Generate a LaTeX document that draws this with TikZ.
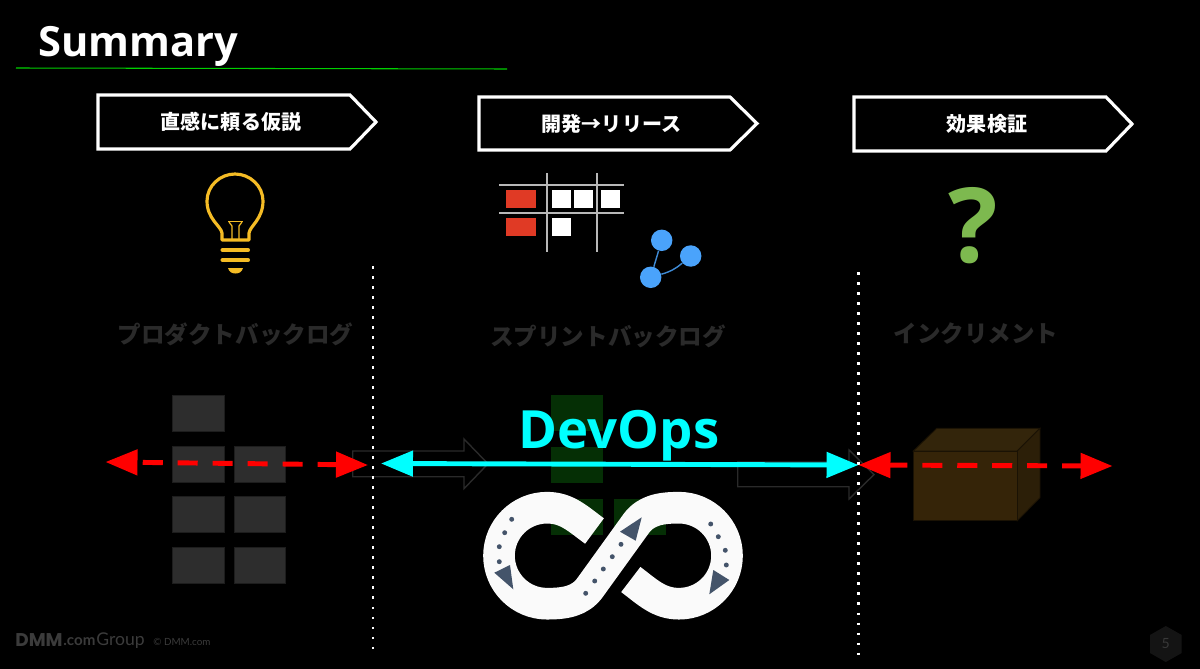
\documentclass[tikz,border=0pt]{standalone}
\usepackage{fontspec}
\usepackage{tikz}
\usetikzlibrary{arrows.meta}
\newfontfamily\jpfont{Noto Sans CJK JP}
\newfontfamily\latinfont{Open Sans}
\newfontfamily\footfont{Lato}
\newfontfamily\logofont{Poppins}
\definecolor{ghosttext}{HTML}{2A2A2A}
\definecolor{ghostgray}{HTML}{2D2D2D}
\definecolor{ghostgreen}{HTML}{052F05}
\definecolor{bulbyellow}{HTML}{F5BC25}
\definecolor{quizgreen}{HTML}{7DB94F}
\definecolor{cardred}{HTML}{E03A25}
\definecolor{gitblue}{HTML}{4AA3FB}
\definecolor{slate}{HTML}{44546A}
\definecolor{aqua}{HTML}{00FFFF}
\definecolor{pure}{HTML}{FF0000}
\definecolor{rulegreen}{HTML}{00D000}
\definecolor{ringwhite}{HTML}{FAFAFA}
\tikzset{
  banner/.style={draw=white,fill=black,line width=1.8pt,line join=miter},
  bannertext/.style={text=white,inner sep=0,font=\jpfont\bfseries\fontsize{11.4}{12}\selectfont},
  ghosttitle/.style={text=ghosttext,inner sep=0,font=\jpfont\bfseries\fontsize{13.4}{14}\selectfont},
  graysq/.style={draw=ghosttext!70!black,fill=ghostgray,line width=.5pt,inner sep=0,minimum width=29.3pt,minimum height=20.5pt},
  greensq/.style={fill=ghostgreen,inner sep=0,minimum width=29.6pt,minimum height=20.5pt},
  ghostarrow/.style={draw=ghosttext,line width=.8pt},
  dots/.style={draw=white,line width=1.5pt,dash pattern=on 1.5pt off 4.2pt},
  redline/.style={draw=pure,line width=2.8pt,
    >={Triangle[length=18.2pt,width=14.2pt,fill=pure]}},
  cyanline/.style={draw=aqua,line width=2.8pt,
    >={Triangle[length=18.2pt,width=14.2pt,fill=aqua]}},
  boardline/.style={draw=black!28,line width=1pt},
  cardsq/.style={fill=white,inner sep=0,minimum width=10.5pt,minimum height=10.2pt},
  cardred/.style={fill=cardred,inner sep=0,minimum width=17pt,minimum height=10.2pt},
  gitnode/.style={circle,fill=gitblue,inner sep=0,minimum size=12.2pt},
  gitline/.style={draw=gitblue!85!black,line width=.8pt},
  slatedot/.style={circle,fill=slate,inner sep=0,minimum size=2.8pt},
  foot/.style={text=black!77,inner sep=0,anchor=west},
}
\begin{document}
\begin{tikzpicture}[x=0.02cm,y=-0.02cm]
  \fill[black] (0,0) rectangle (1200,669);
  \useasboundingbox (0,0) rectangle (1200,669);
  % title
  \node[anchor=west,inner sep=0,text=white,font=\latinfont\bfseries\fontsize{23.7}{25}\selectfont] (title) at (38,46.5) {Summary};
  \coordinate (ruleA) at (16,68);
  \coordinate (ruleB) at (507,69);
  \draw[draw=rulegreen,line width=.6pt] (ruleA) to (ruleB);
  % banners
  \draw[banner] (98,95) -- (350,95) -- (376,122) -- (350,149) -- (98,149) -- cycle;
  \draw[banner] (479,97) -- (730,97) -- (757,123.5) -- (730,150) -- (479,150) -- cycle;
  \draw[banner] (854,97) -- (1106,97) -- (1132,124) -- (1106,151) -- (854,151) -- cycle;
  \node[bannertext] (hypo) at (231,122) {直感に頼る仮説};
  \node[bannertext] (dev) at (611.5,123.5) {開発→リリース};
  \node[bannertext] (verify) at (987,124) {効果検証};
  % bulb
  \draw[bulbyellow,line width=1.8pt,line join=round]
    (222,240) -- (222,233) .. controls (221,226) and (207,219) .. (207,201)
    .. controls (207,186) and (220,174) .. (235,174)
    .. controls (250,174) and (263,186) .. (263,201)
    .. controls (263,219) and (250,226) .. (249,233) -- (249,240) -- cycle;
  \draw[bulbyellow,line width=.7pt] (228,221.5) -- (243,221.5);
  \draw[bulbyellow,line width=.7pt] (229,222) -- (232,226) -- (232,240);
  \draw[bulbyellow,line width=.7pt] (242,222) -- (239,226) -- (239,240);
  \draw[bulbyellow,line width=2.3pt,line cap=round] (222.5,250) -- (248,250);
  \draw[bulbyellow,line width=2.3pt,line cap=round] (222.5,260) -- (248,260);
  \fill[bulbyellow] (228,268) -- (243,268) .. controls (242,272) and (239,273.5) .. (235.5,273.5)
    .. controls (232,273.5) and (229,272) .. (228,268) -- cycle;
  % board
  \coordinate (hA) at (499,185); \coordinate (hB) at (624,185);
  \coordinate (hC) at (499,213); \coordinate (hD) at (624,213);
  \coordinate (vA) at (546.7,173); \coordinate (vB) at (546.7,252);
  \coordinate (vC) at (597.3,173); \coordinate (vD) at (597.3,252);
  \draw[boardline] (hA) to (hB);
  \draw[boardline] (hC) to (hD);
  \draw[boardline] (vA) to (vB);
  \draw[boardline] (vC) to (vD);
  \node[cardred] (redA) at (521,199) {};
  \node[cardred] (redB) at (521,226.7) {};
  \node[cardsq] (cardA) at (561.3,199) {};
  \node[cardsq] (cardB) at (583.5,199) {};
  \node[cardsq] (cardC) at (610.7,199) {};
  \node[cardsq] (cardD) at (561.3,226.7) {};
  % branch
  \node[gitnode] (gitA) at (661.7,240.3) {};
  \node[gitnode] (gitB) at (690.7,256) {};
  \node[gitnode] (gitC) at (650.7,277.3) {};
  \draw[gitline] (gitA) to (gitC);
  \draw[gitline] (gitB) to[bend left=12] (gitC);
  % question mark
  \node[inner sep=0,text=quizgreen,font=\latinfont\bfseries\fontsize{59}{62}\selectfont] (quiz) at (973,226) {?};
  % faded titles
  \node[ghosttitle] (pbl) at (235.5,334) {プロダクトバックログ};
  \node[ghosttitle] (sbl) at (608,336) {スプリントバックログ};
  \node[ghosttitle] (inc) at (976,334) {インクリメント};
  % product backlog
  \node[graysq] (itemA) at (198.5,413) {};
  \foreach \name/\posx/\posy in {itemB/198.5/464,itemC/260/464,itemD/198.5/514.5,itemE/260/514.5,itemF/198.5/565,itemG/260/565}
    \node[graysq] (\name) at (\posx,\posy) {};
  % sprint backlog
  \foreach \name/\posx/\posy in {taskA/577/413,taskB/577/465,taskC/577/517,taskD/640/517}
    \node[greensq] (\name) at (\posx,\posy) {};
  % flow arrows
  \draw[ghostarrow] (352.7,451) -- (464,451) -- (464,439) -- (488,463.8) -- (464,488.7) -- (464,476.7) -- (352.7,476.7) -- cycle;
  \draw[ghostarrow] (737.7,462) -- (849,462) -- (849,450) -- (874,474.6) -- (849,499) -- (849,486.7) -- (737.7,486.7) -- cycle;
  % increment
  \fill[fill={rgb,255:red,51;green,37;blue,11},draw={rgb,255:red,26;green,18;blue,4},line width=.5pt] (913.3,451) -- (936.7,428.3) -- (1040,428.3) -- (1017.3,451) -- cycle;
  \fill[fill={rgb,255:red,44;green,31;blue,8},draw={rgb,255:red,26;green,18;blue,4},line width=.5pt] (1017.3,451) -- (1040,428.3) -- (1040,497.7) -- (1017.3,520.7) -- cycle;
  \fill[fill={rgb,255:red,53;green,36;blue,8},draw={rgb,255:red,26;green,18;blue,4},line width=.5pt] (913.3,451) rectangle (1017.3,520.7);
  % dotted separators
  \coordinate (sepA) at (373,266);
  \coordinate (sepB) at (373,651);
  \coordinate (sepC) at (858.5,272);
  \coordinate (sepD) at (858.5,656);
  \draw[dots] (sepA) to (sepB);
  \draw[dots] (sepC) to (sepD);
  % infinity
  \draw[draw=ringwhite,line width=18pt,line cap=butt,line join=round]
    (594.5,531) .. controls (578,519) and (567,507.7) .. (547,507.7)
    .. controls (520.5,507.7) and (499,529.2) .. (499,555.7)
    .. controls (499,582.2) and (520.5,603.7) .. (547,603.7)
    .. controls (565,603.7) and (580,601.4) .. (590,587.6)
    -- (636,523.8)
    .. controls (646,510) and (661,507.7) .. (679,507.7)
    .. controls (705.5,507.7) and (727,529.2) .. (727,555.7)
    .. controls (727,582.2) and (705.5,603.7) .. (679,603.7)
    .. controls (659,603.7) and (648,592.5) .. (630.8,579.5);
  \fill[slate] (494.3,572.7) -- (510,565) -- (513.3,589.3) -- cycle;
  \fill[slate] (641.7,517.3) -- (620,531.7) -- (635.7,540.7) -- cycle;
  \fill[slate] (729.3,580) -- (713.3,570) -- (709.3,594.3) -- cycle;
  \foreach \posx/\posy in {511.7/519.3,504.7/532.7,499.3/546.7,499.3/561.7,585.7/593.3,594.7/581,603.3/569,612.3/556.7,621/544.3,710.7/524,718.3/536.7,725.3/550.3,726.3/565}
    \node[slatedot] at (\posx,\posy) {};
  % scope arrows
  \coordinate (redAl) at (105.5,462);
  \coordinate (redAr) at (368,465);
  \coordinate (redBl) at (858.5,465);
  \coordinate (redBr) at (1112.5,466);
  \coordinate (cyanl) at (381,463.5);
  \coordinate (cyanr) at (858.5,465);
  \draw[redline,dash pattern=on 11.4pt off 8.5pt,dash phase=16.2pt,<->] (redAl) to (redAr);
  \draw[redline,dash pattern=on 11.4pt off 8.5pt,dash phase=1.1pt,<->] (redBl) to (redBr);
  \draw[cyanline,<->] (cyanl) to (cyanr);
  \node[inner sep=0,text=aqua,font=\latinfont\bfseries\fontsize{30}{31}\selectfont] (devops) at (619,436) {DevOps};
  % footer
  \node[foot,font=\logofont\bfseries\fontsize{10.5}{12}\selectfont] (dmm) at (15,640.5) {DMM};
  \node[foot,font=\footfont\bfseries\fontsize{8.6}{10}\selectfont] (dotcom) at (63,642) {.com};
  \node[foot,font=\footfont\fontsize{10}{12}\selectfont] (group) at (96,641) {Group};
  \node[foot,font=\footfont\fontsize{5.6}{6}\selectfont] (copy) at (153,642) {© DMM.com};
  \fill[black!92] (1165.8,626) -- (1181.7,635) -- (1181.7,653) -- (1165.8,662) -- (1150,653) -- (1150,635) -- cycle;
  \node[inner sep=0,text=black!78,font=\footfont\fontsize{8}{9}\selectfont] (page) at (1165.8,644) {5};
\end{tikzpicture}
\end{document}
